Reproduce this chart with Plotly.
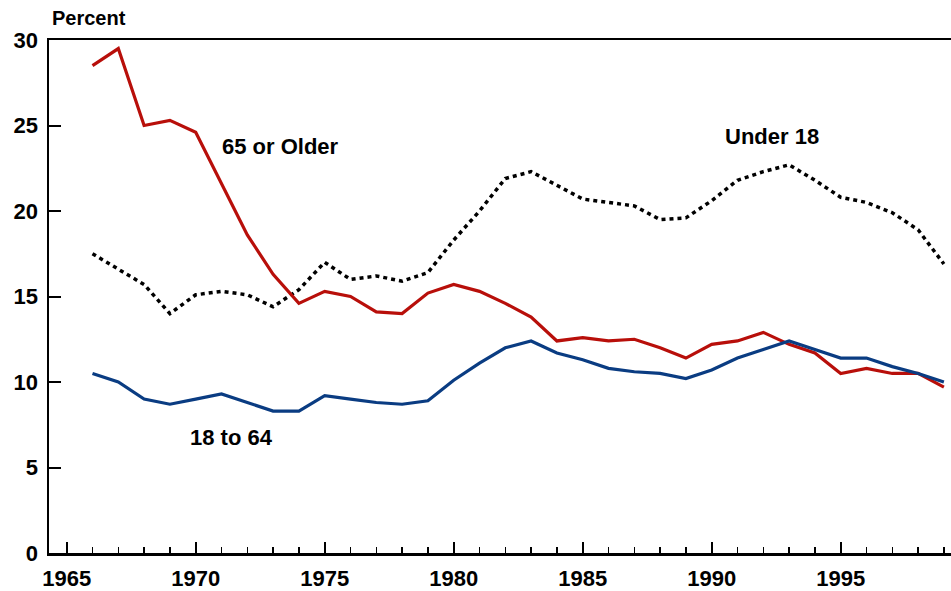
import plotly.graph_objects as go

years = list(range(1966, 2000))

under_18 = [17.5, 16.6, 15.7, 14.0, 15.1, 15.3, 15.1, 14.4, 15.4, 17.0,
            16.0, 16.2, 15.9, 16.4, 18.3, 20.0, 21.9, 22.3, 21.5, 20.7,
            20.5, 20.3, 19.5, 19.6, 20.6, 21.8, 22.3, 22.7, 21.8, 20.8,
            20.5, 19.9, 18.9, 16.9]

age_18_64 = [10.5, 10.0, 9.0, 8.7, 9.0, 9.3, 8.8, 8.3, 8.3, 9.2,
             9.0, 8.8, 8.7, 8.9, 10.1, 11.1, 12.0, 12.4, 11.7, 11.3,
             10.8, 10.6, 10.5, 10.2, 10.7, 11.4, 11.9, 12.4, 11.9, 11.4,
             11.4, 10.9, 10.5, 10.0]

age_65_plus = [28.5, 29.5, 25.0, 25.3, 24.6, 21.6, 18.6, 16.3, 14.6, 15.3,
               15.0, 14.1, 14.0, 15.2, 15.7, 15.3, 14.6, 13.8, 12.4, 12.6,
               12.4, 12.5, 12.0, 11.4, 12.2, 12.4, 12.9, 12.2, 11.7, 10.5,
               10.8, 10.5, 10.5, 9.7]

x_ticks = [1965, 1970, 1975, 1980, 1985, 1990, 1995]
y_ticks = [0, 5, 10, 15, 20, 25, 30]

labels = [
    ("65 or Older", 1973.3, 23.8),
    ("Under 18", 1992.35, 24.35),
    ("18 to 64", 1971.4, 6.75),
]

RED = "#B80F0A"
BLUE = "#0A3C82"
FONT = "Liberation Sans, Arial, sans-serif"

fig = go.Figure()
fig.add_trace(go.Scatter(x=years, y=under_18, mode="lines",
                         line=dict(color="black", width=3.5, dash="4px,4px"),
                         name="Under 18"))
fig.add_trace(go.Scatter(x=years, y=age_65_plus, mode="lines",
                         line=dict(color=RED, width=3.2), name="65 or Older"))
fig.add_trace(go.Scatter(x=years, y=age_18_64, mode="lines",
                         line=dict(color=BLUE, width=3.2), name="18 to 64"))

for text, x, y in labels:
    fig.add_annotation(x=x, y=y, text="<b>%s</b>" % text, showarrow=False,
                       font=dict(family=FONT, size=22, color="black"))

fig.add_annotation(x=0, xref="paper", xanchor="left", xshift=1,
                   y=1, yref="paper", yanchor="bottom", yshift=9,
                   text="<b>Percent</b>", showarrow=False,
                   font=dict(family=FONT, size=20, color="black"))

fig.update_layout(
    width=951, height=591,
    margin=dict(l=49, r=0, t=40, b=35),
    paper_bgcolor="white", plot_bgcolor="white",
    showlegend=False, hovermode=False,
    font=dict(family=FONT, size=22, color="black"),
    xaxis=dict(range=[1964.314, 1999.275], tickvals=x_ticks,
               ticktext=["<b>%d</b>" % v for v in x_ticks],
               ticks="inside", ticklen=11, tickwidth=2, tickcolor="black",
               ticklabelstandoff=4,
               minor=dict(dtick=1, ticks="inside", ticklen=6, tickwidth=1.5,
                          tickcolor="black", showgrid=False),
               showline=True, linecolor="black", linewidth=2.5, mirror=True,
               showgrid=False, zeroline=False,
               tickfont=dict(family=FONT, size=22, color="black")),
    yaxis=dict(range=[0, 30], tickvals=y_ticks,
               ticktext=["<b>%d</b>" % v for v in y_ticks],
               ticks="inside", ticklen=12, tickwidth=2, tickcolor="black",
               ticklabelstandoff=4,
               showline=True, linecolor="black", linewidth=2.5,
               showgrid=False, zeroline=False,
               tickfont=dict(family=FONT, size=22, color="black")),
)

fig.write_html("out.html",
               config={"displayModeBar": False, "staticPlot": True},
               post_script="document.body.style.margin='0';"
                           "document.body.style.padding='0';"
                           "document.documentElement.style.overflow='hidden';"
                           "document.body.style.overflow='hidden';")
